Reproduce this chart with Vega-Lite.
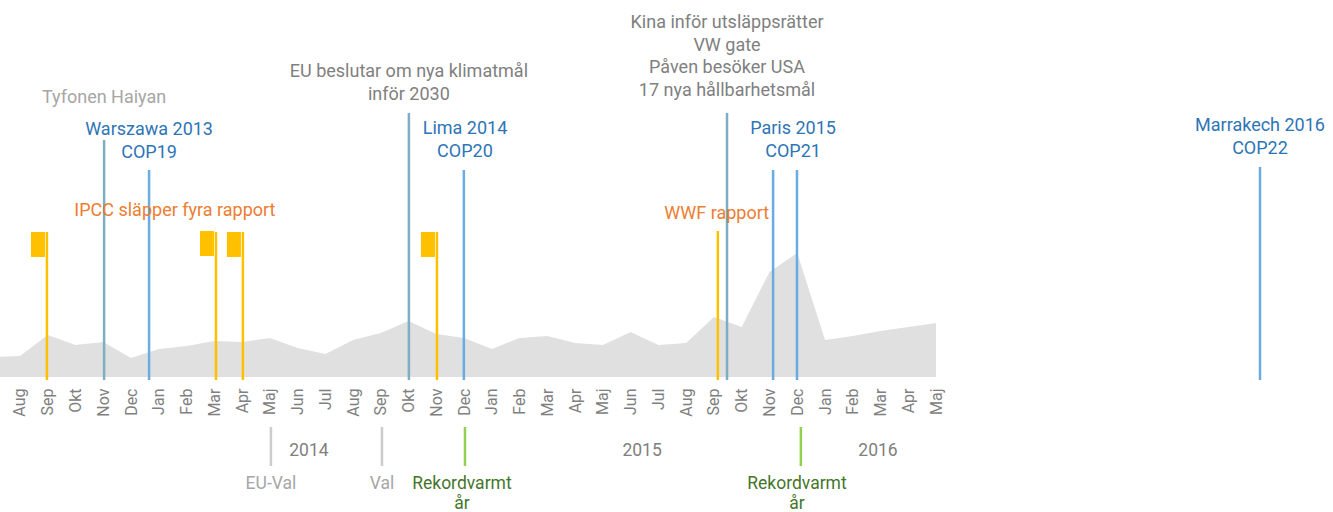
{
  "$schema": "https://vega.github.io/schema/vega-lite/v6.json",
  "width": 1333,
  "height": 377,
  "padding": 0,
  "background": "white",
  "config": {"view": {"stroke": null}, "font": "Roboto"},
  "datasets": {
    "area": [
      {"m": -1, "v": 20}, {"m": 0, "v": 21}, {"m": 1, "v": 42}, {"m": 2, "v": 32}, {"m": 3, "v": 35},
      {"m": 4, "v": 19}, {"m": 5, "v": 28}, {"m": 6, "v": 31}, {"m": 7, "v": 36}, {"m": 8, "v": 35},
      {"m": 9, "v": 39}, {"m": 10, "v": 29}, {"m": 11, "v": 23}, {"m": 12, "v": 37}, {"m": 13, "v": 44},
      {"m": 14, "v": 56}, {"m": 15, "v": 43}, {"m": 16, "v": 39}, {"m": 17, "v": 28}, {"m": 18, "v": 39},
      {"m": 19, "v": 41}, {"m": 20, "v": 34}, {"m": 21, "v": 32}, {"m": 22, "v": 45}, {"m": 23, "v": 32},
      {"m": 24, "v": 34}, {"m": 25, "v": 60}, {"m": 26, "v": 50}, {"m": 27, "v": 105}, {"m": 28, "v": 124},
      {"m": 29, "v": 37}, {"m": 30, "v": 41}, {"m": 31, "v": 46}, {"m": 32, "v": 50}, {"m": 33, "v": 54}
    ],
    "rules": [
      {"m": 0.97, "top": 145, "bottom": 0, "kind": "report"},
      {"m": 3.03, "top": 237, "bottom": 0, "kind": "event"},
      {"m": 4.65, "top": 207, "bottom": 0, "kind": "cop"},
      {"m": 7.06, "top": 145, "bottom": 0, "kind": "report"},
      {"m": 8.03, "top": 145, "bottom": 0, "kind": "report"},
      {"m": 14.01, "top": 264, "bottom": 0, "kind": "event"},
      {"m": 15.02, "top": 145, "bottom": 0, "kind": "report"},
      {"m": 15.99, "top": 207, "bottom": 0, "kind": "cop"},
      {"m": 25.14, "top": 146, "bottom": 0, "kind": "report"},
      {"m": 25.47, "top": 264, "bottom": 0, "kind": "event"},
      {"m": 27.13, "top": 207, "bottom": 0, "kind": "cop"},
      {"m": 27.99, "top": 207, "bottom": 0, "kind": "cop"},
      {"m": 44.67, "top": 210, "bottom": 0, "kind": "cop"},
      {"m": 9.04, "top": -50, "bottom": -86, "kind": "val"},
      {"m": 13.04, "top": -50, "bottom": -86, "kind": "val"},
      {"m": 16.03, "top": -50, "bottom": -86, "kind": "rekord"},
      {"m": 28.13, "top": -50, "bottom": -86, "kind": "rekord"}
    ],
    "flags": [
      {"m": 0.97, "top": 145},
      {"m": 7.06, "top": 146},
      {"m": 8.03, "top": 145},
      {"m": 15.02, "top": 145}
    ],
    "labels": [
      {"m": 3.03, "v": 274, "kind": "haiyan", "text": ["Tyfonen Haiyan"]},
      {"m": 4.65, "v": 242, "kind": "cop", "text": ["Warszawa 2013", "COP19"]},
      {"m": 5.58, "v": 161, "kind": "report", "text": ["IPCC släpper fyra rapport"]},
      {"m": 14.01, "v": 300, "kind": "event", "text": ["EU beslutar om nya klimatmål", "inför 2030"]},
      {"m": 16.03, "v": 243, "kind": "cop", "text": ["Lima 2014", "COP20"]},
      {"m": 25.47, "v": 349, "kind": "event", "text": ["Kina inför utsläppsrätter", "VW gate", "Påven besöker USA", "17 nya hållbarhetsmål"]},
      {"m": 27.85, "v": 243, "kind": "cop", "text": ["Paris 2015", "COP21"]},
      {"m": 25.1, "v": 158, "kind": "report", "text": ["WWF rapport"]},
      {"m": 44.67, "v": 246, "kind": "cop", "text": ["Marrakech 2016", "COP22"]}
    ],
    "bottomLabels": [
      {"m": 10.41, "v": -79, "kind": "year", "text": ["2014"]},
      {"m": 22.41, "v": -79, "kind": "year", "text": ["2015"]},
      {"m": 30.91, "v": -79, "kind": "year", "text": ["2016"]},
      {"m": 9.04, "v": -112, "kind": "val", "text": ["EU-Val"]},
      {"m": 13.04, "v": -112, "kind": "val", "text": ["Val"]},
      {"m": 15.92, "v": -112, "kind": "rekord", "text": ["Rekordvarmt", "år"]},
      {"m": 27.99, "v": -112, "kind": "rekord", "text": ["Rekordvarmt", "år"]}
    ]
  },
  "encoding": {
    "x": {
      "field": "m",
      "type": "quantitative",
      "scale": {"domain": [-0.72, 47.3], "nice": false, "zero": false},
      "axis": {
        "title": null,
        "values": [0,1,2,3,4,5,6,7,8,9,10,11,12,13,14,15,16,17,18,19,20,21,22,23,24,25,26,27,28,29,30,31,32,33],
        "labelExpr": "['Jan','Feb','Mar','Apr','Maj','Jun','Jul','Aug','Sep','Okt','Nov','Dec'][(datum.value + 7) % 12]",
        "labelAngle": 270,
        "labelFontSize": 16,
        "labelColor": "#808080",
        "labelPadding": 11,
        "ticks": false,
        "domain": false,
        "grid": false,
        "labelOverlap": false,
        "labelBound": false,
        "labelFlush": false
      }
    }
  },
  "layer": [
    {
      "data": {"name": "area"},
      "mark": {"type": "area", "color": "#E0E0E0", "clip": true, "interpolate": "linear"},
      "encoding": {
        "y": {"field": "v", "type": "quantitative", "scale": {"domain": [0, 377], "nice": false}, "axis": null}
      }
    },
    {
      "data": {"name": "rules"},
      "mark": {"type": "rule", "strokeWidth": 2.5, "y2Offset": 3},
      "encoding": {
        "y": {"field": "top", "type": "quantitative", "scale": {"domain": [0, 377], "nice": false}, "axis": null},
        "y2": {"field": "bottom"},
        "color": {
          "field": "kind", "type": "nominal", "legend": null,
          "scale": {"domain": ["report", "event", "cop", "val", "rekord"], "range": ["#FFC000", "#7EADC4", "#6AABE2", "#CCCCCC", "#92D050"]}
        }
      }
    },
    {
      "data": {"name": "flags"},
      "mark": {"type": "rect", "color": "#FFC000", "xOffset": -16, "x2Offset": -2, "y2Offset": 25},
      "encoding": {
        "x2": {"field": "m"},
        "y": {"field": "top", "type": "quantitative", "scale": {"domain": [0, 377], "nice": false}, "axis": null},
        "y2": {"field": "top"}
      }
    },
    {
      "data": {"name": "labels"},
      "mark": {"type": "text", "align": "center", "baseline": "alphabetic", "fontSize": 18, "lineHeight": 22.5, "font": "Roboto"},
      "encoding": {
        "y": {"field": "v", "type": "quantitative", "scale": {"domain": [0, 377], "nice": false}, "axis": null},
        "text": {"field": "text"},
        "color": {
          "field": "kind", "type": "nominal", "legend": null,
          "scale": {"domain": ["haiyan", "cop", "report", "event"], "range": ["#A6A6A6", "#2E75B6", "#ED7D31", "#808080"]}
        }
      }
    },
    {
      "data": {"name": "bottomLabels"},
      "mark": {"type": "text", "align": "center", "baseline": "alphabetic", "fontSize": 17.5, "lineHeight": 20, "font": "Roboto"},
      "encoding": {
        "y": {"field": "v", "type": "quantitative", "scale": {"domain": [0, 377], "nice": false}, "axis": null},
        "text": {"field": "text"},
        "color": {
          "field": "kind", "type": "nominal", "legend": null,
          "scale": {"domain": ["year", "val", "rekord"], "range": ["#808080", "#A6A6A6", "#44762A"]}
        }
      }
    }
  ],
  "resolve": {"scale": {"color": "independent"}}
}
